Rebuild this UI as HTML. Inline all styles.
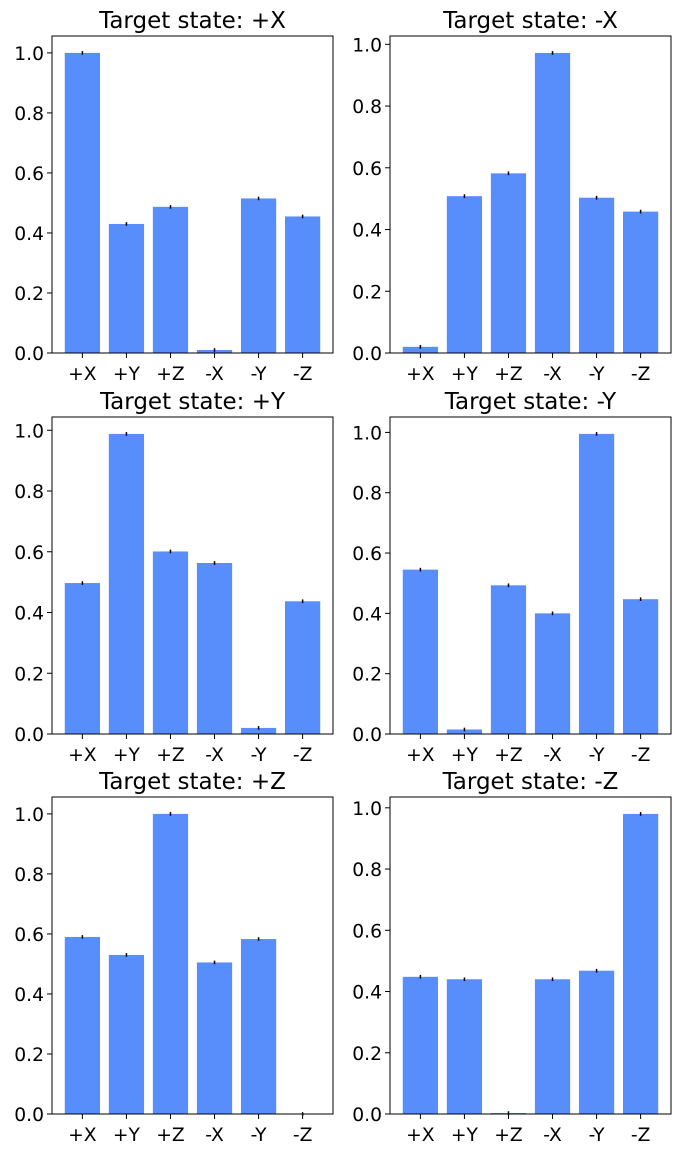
<!DOCTYPE html>
<html><head><meta charset="utf-8"><style>
html,body{margin:0;padding:0;background:#fff;}
svg{display:block;font-family:"DejaVu Sans","Liberation Sans",sans-serif;}
</style></head><body>
<svg id="fig" width="680" height="1153"></svg>
<script>
const categories = ["+X","+Y","+Z","-X","-Y","-Z"];
const titles = ["Target state: +X","Target state: -X","Target state: +Y","Target state: -Y","Target state: +Z","Target state: -Z"];
const valsPX = [1.0,0.43,0.487,0.01,0.515,0.455];
const valsMX = [0.02,0.508,0.582,0.972,0.503,0.458];
const valsPY = [0.497,0.988,0.601,0.563,0.02,0.437];
const valsMY = [0.545,0.015,0.493,0.40,0.995,0.447];
const valsPZ = [0.59,0.53,1.0,0.505,0.583,0.0];
const valsMZ = [0.448,0.44,0.003,0.44,0.468,0.98];
const errs = [0.006,0.006,0.006,0.006,0.006,0.006];
const yTicks = [0,0.2,0.4,0.6,0.8,1.0];
const series = [valsPX,valsMX,valsPY,valsMY,valsPZ,valsMZ];

const NS="http://www.w3.org/2000/svg";
const svg=document.getElementById('fig');
function mk(t,a,p){const e=document.createElementNS(NS,t);for(const k in a)e.setAttribute(k,a[k]);(p||svg).appendChild(e);return e;}
const lefts=[52,390], tops=[36,417,797], W=281, H=317;
series.forEach((vals,i)=>{
  const L=lefts[i%2], T=tops[Math.floor(i/2)];
  const g=mk('g',{});
  
  
  const ymax=Math.max(...vals.map((v,j)=>v+errs[j]))*1.05;
  const xmin=-0.69, xmax=5.69;
  const X=x=>L+(x-xmin)/(xmax-xmin)*W;
  const Y=y=>T+H-(y/ymax)*H;
  vals.forEach((v,j)=>{
    const r=mk('rect',{x:X(j-0.4),y:Y(v),width:X(j+0.4)-X(j-0.4),height:Y(0)-Y(v),fill:'#588efc'},g);
    
    
    const e=mk('line',{x1:X(j),x2:X(j),y1:Y(v-errs[j]),y2:Y(v+errs[j]),stroke:'#000','stroke-width':1.5},g);
    
    
    mk('line',{x1:X(j),x2:X(j),y1:T+H,y2:T+H+5,stroke:'#000','stroke-width':1},g);
    const t=mk('text',{x:X(j),y:T+H+27,'text-anchor':'middle','font-size':18.7},g);
    t.textContent=categories[j];
    
    
  });
  yTicks.forEach(v=>{
    mk('line',{x1:L-5,x2:L,y1:Y(v),y2:Y(v),stroke:'#000','stroke-width':1},g);
    const t=mk('text',{x:L-8,y:Y(v)+7,'text-anchor':'end','font-size':18.7},g);
    t.textContent=v.toFixed(1);
    
    
  });
  const fr=mk('rect',{x:L,y:T,width:W,height:H,fill:'none',stroke:'#000','stroke-width':1},g);
  
  
  const tt=mk('text',{x:L+W/2,y:T-8,'text-anchor':'middle','font-size':23},g);
  tt.textContent=titles[i];
  
  
});
</script>
</body></html>
